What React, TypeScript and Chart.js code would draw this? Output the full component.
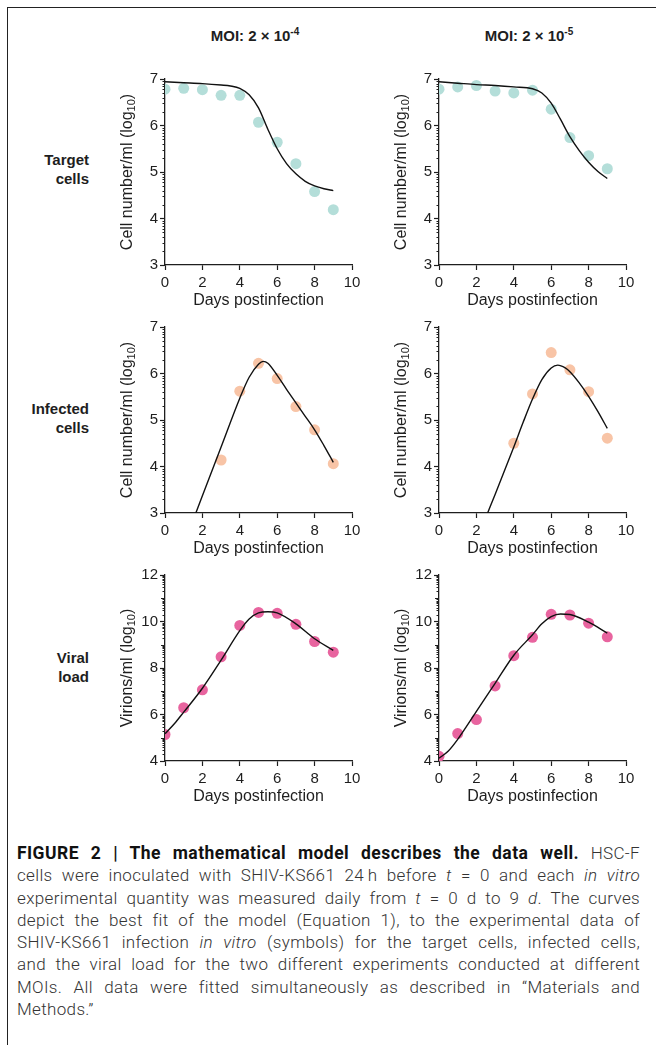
import React, { useEffect, useRef } from 'react';
import { Chart, registerables } from 'chart.js';

Chart.register(...registerables);

// ---------- data ----------
const days = [0, 1, 2, 3, 4, 5, 6, 7, 8, 9];
const xTicks = [0, 2, 4, 6, 8, 10];
const cellTicks = [3, 4, 5, 6, 7];
const virionTicks = [4, 6, 8, 10, 12];

// Target cells, MOI 2e-4
const targetObsA = [6.78, 6.80, 6.77, 6.65, 6.65, 6.07, 5.64, 5.18, 4.58, 4.19];
const targetFitDaysA = [0, 1, 2, 3, 3.5, 4, 4.5, 5, 5.5, 6, 6.5, 7, 7.5, 8, 8.5, 9];
const targetFitA = [6.94, 6.92, 6.90, 6.87, 6.85, 6.80, 6.66, 6.38, 5.92, 5.50, 5.18, 4.96, 4.80, 4.70, 4.64, 4.60];

// Target cells, MOI 2e-5
const targetObsB = [6.78, 6.83, 6.86, 6.74, 6.70, 6.76, 6.35, 5.74, 5.35, 5.07];
const targetFitDaysB = [0, 1, 2, 3, 4, 5, 5.5, 6, 6.5, 7, 7.5, 8, 8.5, 9];
const targetFitB = [6.94, 6.91, 6.88, 6.86, 6.83, 6.79, 6.70, 6.48, 6.13, 5.76, 5.46, 5.21, 5.01, 4.86];

// Infected cells, MOI 2e-4 (first measured on day 3)
const infectedDaysA = [3, 4, 5, 6, 7, 8, 9];
const infectedObsA = [4.14, 5.62, 6.22, 5.89, 5.29, 4.79, 4.06];
const infectedFitDaysA = [1.65, 2, 3, 4, 4.5, 5, 5.25, 5.5, 6, 6.5, 7, 7.5, 8, 8.5, 9];
const infectedFitA = [3.0, 3.37, 4.42, 5.47, 5.92, 6.20, 6.26, 6.22, 5.96, 5.66, 5.37, 5.08, 4.79, 4.45, 4.09];

// Infected cells, MOI 2e-5 (first measured on day 4)
const infectedDaysB = [4, 5, 6, 7, 8, 9];
const infectedObsB = [4.50, 5.56, 6.45, 6.08, 5.61, 4.61];
const infectedFitDaysB = [2.6, 3, 4, 4.5, 5, 5.5, 6, 6.35, 6.75, 7, 7.5, 8, 8.5, 9];
const infectedFitB = [3.0, 3.4, 4.42, 4.95, 5.45, 5.87, 6.12, 6.18, 6.12, 6.04, 5.80, 5.51, 5.18, 4.82];

// Viral load, MOI 2e-4
const viralObsA = [5.14, 6.29, 7.06, 8.48, 9.83, 10.39, 10.35, 9.88, 9.14, 8.68];
const viralFitDaysA = [0, 0.5, 1, 2, 3, 4, 4.5, 5, 5.5, 6, 7, 8, 9];
const viralFitA = [5.17, 5.6, 6.1, 7.13, 8.34, 9.61, 10.11, 10.37, 10.42, 10.37, 9.90, 9.26, 8.76];

// Viral load, MOI 2e-5
const viralObsB = [4.20, 5.18, 5.78, 7.23, 8.53, 9.32, 10.31, 10.28, 9.93, 9.34];
const viralFitDaysB = [0, 0.5, 1, 2, 3, 4, 5, 5.5, 6, 6.5, 7, 8, 9];
const viralFitB = [4.12, 4.43, 4.93, 6.13, 7.34, 8.55, 9.43, 9.90, 10.21, 10.32, 10.30, 9.97, 9.50];

// ---------- styles ----------
const INK = '#1e1e1e';
const FONT = "'Liberation Sans', Arial, Helvetica, sans-serif";
const TEAL = '#b4ded9';
const PEACH = '#f8c4a6';
const PINK = '#e8649f';

const PLOT = 187;
const PAD_L = 70;
const PAD_T = 10;
const PAD_R = 15;
const X_AXIS_H = 50;
const CANVAS_W = PAD_L + PLOT + PAD_R;
const CANVAS_H = PAD_T + PLOT + X_AXIS_H;

const axisDecor = {
  id: 'axisDecor',
  afterDraw(chart: any, _args: any, opts: any) {
    const y = chart.scales.y;
    const { ctx, chartArea } = chart;
    const left = chartArea.left;
    ctx.save();
    ctx.strokeStyle = INK;
    ctx.lineWidth = 1;
    for (let n = Math.floor(y.min); n < y.max; n++) {
      for (let k = 1; k <= 9; k++) {
        if (k === 1 && (opts.labeled as number[]).includes(n)) continue;
        const v = n + Math.log10(k);
        const len = k === 1 ? 4 : 2.5;
        const py = Math.round(y.getPixelForValue(v)) + 0.5;
        ctx.beginPath();
        ctx.moveTo(left - len, py);
        ctx.lineTo(left, py);
        ctx.stroke();
      }
    }
    // y title with subscript
    const cx = left - 37;
    const cy = (chartArea.top + chartArea.bottom) / 2;
    ctx.translate(cx, cy);
    ctx.rotate(-Math.PI / 2);
    ctx.fillStyle = INK;
    ctx.textBaseline = 'middle';
    ctx.textAlign = 'left';
    const mainFont = `16px ${FONT}`;
    const subFont = `11px ${FONT}`;
    ctx.font = mainFont;
    const w1 = ctx.measureText(opts.title).width;
    const w3 = ctx.measureText(')').width;
    ctx.font = subFont;
    const w2 = ctx.measureText('10').width;
    let x0 = -(w1 + w2 + w3) / 2;
    ctx.font = mainFont;
    ctx.fillText(opts.title, x0, 0);
    x0 += w1;
    ctx.font = subFont;
    ctx.fillText('10', x0, 4);
    x0 += w2;
    ctx.font = mainFont;
    ctx.fillText(')', x0, 0);
    ctx.restore();
  },
};

type PanelProps = {
  left: number;
  top: number;
  obsX: number[];
  obsY: number[];
  fitX: number[];
  fitY: number[];
  color: string;
  yMin: number;
  yMax: number;
  yTicks: number[];
  yTitle: string;
};

function Panel(p: PanelProps) {
  const ref = useRef<HTMLCanvasElement | null>(null);
  useEffect(() => {
    if (!ref.current) return;
    const chart = new Chart(ref.current, {
      type: 'scatter',
      data: {
        datasets: [
          {
            data: p.fitX.map((x, i) => ({ x, y: p.fitY[i] })),
            showLine: true,
            borderColor: '#111',
            borderWidth: 1.4,
            pointRadius: 0,
            cubicInterpolationMode: 'monotone',
            order: 0,
          } as any,
          {
            data: p.obsX.map((x, i) => ({ x, y: p.obsY[i] })),
            backgroundColor: p.color,
            borderWidth: 0,
            pointRadius: 5.5,
            order: 1,
          },
        ],
      },
      options: {
        animation: false,
        responsive: false,
        maintainAspectRatio: false,
        events: [],
        layout: { padding: { left: 0, top: PAD_T, right: PAD_R, bottom: 0 } },
        plugins: {
          legend: { display: false },
          tooltip: { enabled: false },
          axisDecor: { labeled: p.yTicks, title: p.yTitle },
        } as any,
        scales: {
          x: {
            type: 'linear',
            min: 0,
            max: 10,
            afterBuildTicks: (s: any) => {
              s.ticks = xTicks.map((v) => ({ value: v }));
            },
            afterFit: (s: any) => {
              s.height = X_AXIS_H;
            },
            grid: { drawOnChartArea: false, tickLength: 5, tickColor: INK, tickWidth: 1.2 },
            border: { color: INK, width: 1.3 },
            ticks: { color: INK, font: { size: 15, family: FONT }, padding: 4, maxRotation: 0 },
            title: {
              display: true,
              text: 'Days postinfection',
              color: INK,
              font: { size: 16, family: FONT },
              padding: { top: 0, bottom: 5 },
            },
          },
          y: {
            type: 'linear',
            min: p.yMin,
            max: p.yMax,
            afterBuildTicks: (s: any) => {
              s.ticks = p.yTicks.map((v) => ({ value: v }));
            },
            afterFit: (s: any) => {
              s.width = PAD_L;
            },
            grid: { drawOnChartArea: false, tickLength: 5, tickColor: INK, tickWidth: 1.2 },
            border: { color: INK, width: 1.3 },
            ticks: { color: INK, font: { size: 15, family: FONT }, padding: 2 },
          },
        },
      } as any,
      plugins: [axisDecor],
    });
    return () => chart.destroy();
  }, []);
  return (
    <canvas
      ref={ref}
      width={CANVAS_W}
      height={CANVAS_H}
      style={{
        position: 'absolute',
        left: p.left - PAD_L,
        top: p.top - PAD_T,
        width: CANVAS_W,
        height: CANVAS_H,
      }}
    />
  );
}

const COL = [165, 439];
const ROW = [78, 326, 574];
const CELL_TITLE = 'Cell number/ml (log';
const VIRION_TITLE = 'Virions/ml (log';

const rowLabel = (top: number, l1: string, l2: string) => (
  <div
    style={{
      position: 'absolute',
      left: 0,
      top,
      width: 89,
      textAlign: 'right',
      fontWeight: 'bold',
      fontSize: 15,
      lineHeight: '19px',
      color: INK,
    }}
  >
    <div>{l1}</div>
    <div>{l2}</div>
  </div>
);

const moiTitle = (cx: number, exp: string) => (
  <div
    style={{
      position: 'absolute',
      left: cx - 80,
      width: 160,
      top: 26,
      textAlign: 'center',
      fontWeight: 'bold',
      fontSize: 15,
      lineHeight: '20px',
      color: INK,
    }}
  >
    MOI: 2 × 10
    <span style={{ fontSize: 10, position: 'relative', top: -6 }}>{exp}</span>
  </div>
);

const captionLine: React.CSSProperties = {
  textAlign: 'justify',
  textAlignLast: 'justify' as any,
  height: 22.3,
  overflow: 'hidden',
  whiteSpace: 'nowrap',
};

export default function App() {
  return (
    <div
      style={{
        position: 'absolute',
        left: 0,
        top: 0,
        width: 656,
        height: 1045,
        background: '#fff',
        overflow: 'hidden',
        fontFamily: FONT,
      }}
    >
      <div
        style={{
          position: 'absolute',
          left: 7,
          top: 7,
          right: 0,
          bottom: 0,
          borderTop: '1.3px solid #222',
          borderLeft: '1.3px solid #222',
        }}
      />
      {moiTitle(255, '-4')}
      {moiTitle(529, '-5')}
      {rowLabel(149.5, 'Target', 'cells')}
      {rowLabel(398.5, 'Infected', 'cells')}
      {rowLabel(647.5, 'Viral', 'load')}

      <Panel left={COL[0]} top={ROW[0]} obsX={days} obsY={targetObsA} fitX={targetFitDaysA} fitY={targetFitA}
        color={TEAL} yMin={3} yMax={7} yTicks={cellTicks} yTitle={CELL_TITLE} />
      <Panel left={COL[1]} top={ROW[0]} obsX={days} obsY={targetObsB} fitX={targetFitDaysB} fitY={targetFitB}
        color={TEAL} yMin={3} yMax={7} yTicks={cellTicks} yTitle={CELL_TITLE} />
      <Panel left={COL[0]} top={ROW[1]} obsX={infectedDaysA} obsY={infectedObsA} fitX={infectedFitDaysA} fitY={infectedFitA}
        color={PEACH} yMin={3} yMax={7} yTicks={cellTicks} yTitle={CELL_TITLE} />
      <Panel left={COL[1]} top={ROW[1]} obsX={infectedDaysB} obsY={infectedObsB} fitX={infectedFitDaysB} fitY={infectedFitB}
        color={PEACH} yMin={3} yMax={7} yTicks={cellTicks} yTitle={CELL_TITLE} />
      <Panel left={COL[0]} top={ROW[2]} obsX={days} obsY={viralObsA} fitX={viralFitDaysA} fitY={viralFitA}
        color={PINK} yMin={4} yMax={12} yTicks={virionTicks} yTitle={VIRION_TITLE} />
      <Panel left={COL[1]} top={ROW[2]} obsX={days} obsY={viralObsB} fitX={viralFitDaysB} fitY={viralFitB}
        color={PINK} yMin={4} yMax={12} yTicks={virionTicks} yTitle={VIRION_TITLE} />

      <div
        style={{
          position: 'absolute',
          left: 17,
          top: 842,
          width: 623,
          fontFamily: "Roboto, 'Liberation Sans', sans-serif",
          fontWeight: 300,
          fontSize: 17,
          letterSpacing: '0.35px',
          lineHeight: '22.3px',
          color: '#333',
        }}
      >
        <div style={captionLine}>
          <b style={{ fontWeight: 700, color: '#111', fontSize: 17.5, letterSpacing: '0.45px' }}>FIGURE 2 | The mathematical model describes the data well.</b> HSC-F
        </div>
        <div style={captionLine}>
          cells were inoculated with SHIV-KS661 24{'\u2009'}h before <i>t</i> = 0 and each <i>in vitro</i>
        </div>
        <div style={captionLine}>
          experimental quantity was measured daily from <i>t</i> = 0 d to 9 <i>d</i>. The curves
        </div>
        <div style={captionLine}>depict the best fit of the model (Equation 1), to the experimental data of</div>
        <div style={captionLine}>
          SHIV-KS661 infection <i>in vitro</i> (symbols) for the target cells, infected cells,
        </div>
        <div style={captionLine}>and the viral load for the two different experiments conducted at different</div>
        <div style={captionLine}>MOIs. All data were fitted simultaneously as described in “Materials and</div>
        <div style={{ height: 22.3 }}>Methods.”</div>
      </div>
    </div>
  );
}
